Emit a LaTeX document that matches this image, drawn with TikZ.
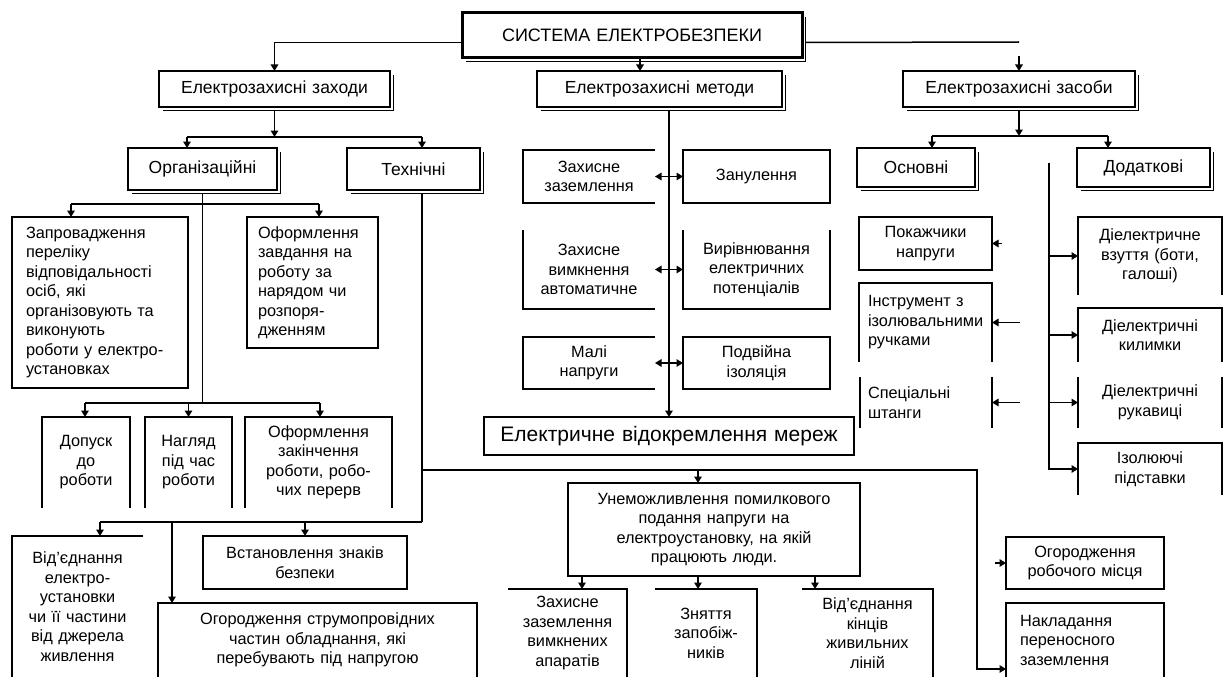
\documentclass[tikz,border=0pt]{standalone}
\usepackage{fontspec}
\setmainfont{Liberation Sans}
\usetikzlibrary{arrows.meta}
\newcommand\fsz{\fontsize{16.3}{19.5}\selectfont}
\newcommand\fszb{\fontsize{17.5}{20}\selectfont}
\newcommand\fszt{\fontsize{18}{21}\selectfont}
\newcommand\fszv{\fontsize{21}{24}\selectfont}
\newcommand\shad[1]{\draw[line width=1pt] ([xshift=3.5pt,yshift=-4pt]#1.north east) |- ([xshift=4pt,yshift=-3.5pt]#1.south west);}
\begin{document}
\begin{tikzpicture}[x=1pt,y=-1pt,line width=1.5pt,
  lbl/.style={inner xsep=5pt,inner ysep=0pt,outer sep=0pt,font=\fsz,align=center,anchor=north west},
  full/.style={lbl,draw},
  head/.style={lbl,draw,font=\fszb},
  arr/.style={-{Triangle[length=6.5pt,width=7.5pt]}}]
\fill[white] (0,0) rectangle (1227,677);
\useasboundingbox (0,0) rectangle (1227,677);

% ---- title and level 2
\node[lbl,draw,line width=3pt,font=\fszt,text width=330pt,minimum height=45pt] (title) at (462,13) {СИСТЕМА ЕЛЕКТРОБЕЗПЕКИ};
\shad{title}
\node[head,text width=221pt,minimum height=36pt] (zah) at (159,71) {Електрозахисні заходи};
\shad{zah}
\node[head,text width=235pt,minimum height=36pt] (met) at (537,71) {Електрозахисні методи};
\shad{met}
\node[head,text width=222pt,minimum height=36pt] (zas) at (903,71) {Електрозахисні засоби};
\shad{zas}

% ---- level 3
\node[head,text width=139pt,minimum height=42pt] (org) at (128,148) {Організаційні};
\shad{org}
\node[head,text width=123pt,minimum height=42pt] (teh) at (347,148) {Технічні};
\shad{teh}
\node[head,text width=108pt,minimum height=39pt] (osn) at (857,148) {Основні};
\shad{osn}
\node[head,text width=123pt,minimum height=39pt] (dod) at (1077,148) {Додаткові};
\shad{dod}

% ---- organisational
\node[full,align=left,inner xsep=14pt,text width=148pt,minimum height=171pt] (zapr) at (12,217)
  {Запровадження\\переліку\\відповідальності\\осіб, які\\організовують та\\виконують\\роботи у електро-\\установках};
\node[full,align=left,inner xsep=11pt,text width=109pt,minimum height=131pt] (ofn) at (247,217)
  {Оформлення\\завдання на\\роботу за\\нарядом чи\\розпоря-\\дженням};
\node[lbl,text width=78pt,minimum height=91pt] (dop) at (42,417) {Допуск\\до\\роботи};
\node[lbl,text width=77pt,minimum height=91pt] (nag) at (145,417) {Нагляд\\під час\\роботи};
\node[lbl,text width=137pt,minimum height=91pt] (ofz) at (245,417) {Оформлення\\закінчення\\роботи, робо-\\чих перерв};
\draw (dop.south west) |- (dop.north east) -- (dop.south east);
\draw (nag.south west) |- (nag.north east) -- (nag.south east);
\draw (ofz.south west) |- (ofz.north east) -- (ofz.south east);

% ---- technical
\node[lbl,text width=121pt,minimum height=141pt] (vid) at (12,536) {Від’єднання\\електро-\\установки\\чи її частини\\від джерела\\живлення};
\draw (vid.south west) |- (vid.north east);
\node[full,text width=194pt,minimum height=53pt] (vst) at (203,536) {Встановлення знаків\\безпеки};
\node[lbl,text width=309pt,minimum height=74pt] (ogs) at (158,603) {Огородження струмопровідних\\частин обладнання, які\\перебувають під напругою};
\draw (ogs.south west) |- (ogs.north east) -- (ogs.south east);
\node[full,text width=282pt,minimum height=93pt] (unem) at (568,483) {Унеможливлення помилкового\\подання напруги на\\електроустановку, на якій\\працюють люди.};
\node[lbl,text width=109pt,minimum height=88pt] (zza) at (508,589) {Захисне\\заземлення\\вимкнених\\апаратів};
\node[lbl,text width=92pt,minimum height=88pt] (zzp) at (655,589) {Зняття\\запобіж-\\ників};
\node[lbl,text width=121pt,minimum height=88pt] (vkl) at (802,589) {Від’єднання\\кінців\\живильних\\ліній};
\draw (zza.north west) -- (zza.north east) -- (zza.south east);
\draw (zzp.north west) -- (zzp.north east) -- (zzp.south east);
\draw (vkl.north west) -- (vkl.north east) -- (vkl.south east);
\node[full,text width=148pt,minimum height=52pt] (orm) at (1006,537) {Огородження\\робочого місця};
\node[lbl,align=left,inner xsep=14pt,text width=130pt,minimum height=74pt] (nak) at (1006,603) {Накладання\\переносного\\заземлення};
\draw (nak.south west) |- (nak.north east) -- (nak.south east);

% ---- methods
\node[lbl,text width=122pt,minimum height=53pt] (zaz) at (523,150) {Захисне\\заземлення};
\node[lbl,text width=122pt,minimum height=79pt] (zvy) at (523,230) {Захисне\\вимкнення\\автоматичне};
\node[lbl,text width=122pt,minimum height=52pt] (mal) at (523,337) {Малі\\напруги};
\draw (zaz.north east) -- (zaz.north west) -- (zaz.south west) -- (zaz.south east);
\draw (zvy.north west) |- (zvy.south east);
\draw (mal.north east) -- (mal.north west) -- (mal.south west) -- (mal.south east);
\node[full,text width=137pt,minimum height=53pt] (zan) at (683,150) {Занулення};
\node[lbl,text width=137pt,minimum height=79pt] (vyr) at (683,230) {Вирівнювання\\електричних\\потенціалів};
\draw (vyr.north west) -- (vyr.south west) -- (vyr.south east) -- (vyr.north east);
\node[full,text width=137pt,minimum height=52pt] (pod) at (683,337) {Подвійна\\ізоляція};
\node[full,font=\fszv,text width=360pt,minimum height=38pt] (vmer) at (484,417) {Електричне відокремлення мереж};

% ---- means
\node[full,text width=123pt,minimum height=53pt] (pok) at (859,217) {Покажчики\\напруги};
\node[lbl,align=left,inner xsep=9pt,text width=115pt,minimum height=79pt] (ins) at (859,283) {Інструмент з\\ізолювальними\\ручками};
\draw (ins.south west) |- (ins.north east) -- (ins.south east);
\node[lbl,align=left,inner xsep=8pt,text width=116pt,minimum height=51pt] (spec) at (860,377) {Спеціальні\\штанги};
\draw (spec.north west) -- (spec.south west) (spec.north east) -- (spec.south east);
\node[lbl,text width=134pt,minimum height=78pt] (dv) at (1078,217) {Діелектричне\\взуття (боти,\\галоші)};
\node[lbl,text width=134pt,minimum height=54pt] (dk) at (1078,308) {Діелектричні\\килимки};
\node[lbl,text width=134pt,minimum height=51pt] (dr) at (1078,377) {Діелектричні\\рукавиці};
\node[lbl,text width=134pt,minimum height=52pt] (izp) at (1078,443) {Ізолюючі\\підставки};
\draw (dv.south west) |- (dv.north east) -- (dv.south east);
\draw (dk.south west) |- (dk.north east) -- (dk.south east);
\draw (dr.north west) -- (dr.south west) (dr.north east) -- (dr.south east);
\draw (izp.south west) |- (izp.north east) -- (izp.south east);

% ---- connectors: top
\draw[arr] ([yshift=-7pt]title.west) -| (zah.north);
\draw[arr] ([xshift=8pt]title.south) -- ([xshift=8pt]title.south |- met.north);
\coordinate (zc) at (1019,42);
\coordinate (zi) at (1019,56);
\draw ([xshift=4pt,yshift=-7pt]title.east) -- (zc);
\draw[arr] (zi) -- (zi |- zas.north);

% zah -> org, teh
\coordinate (h1a) at (187,137);
\coordinate (h1b) at (422,137);
\draw[arr] ([yshift=-3.5pt]zah.south) -- (zah.south |- h1a);
\draw (h1a) -- (h1b);
\draw[arr] (h1a) -- (h1a |- org.north);
\draw[arr] (h1b) -- (h1b |- teh.north);

% zas -> osn, dod
\coordinate (h2a) at (932,136);
\coordinate (h2b) at (1108,136);
\draw[arr] ([yshift=-3.5pt]zas.south) -- (zas.south |- h2a);
\draw (h2a) -- (h2b);
\draw[arr] (h2a) -- (h2a |- osn.north);
\draw[arr] (h2b) -- (h2b |- dod.north);

% organisational
\coordinate (h3a) at (71,204);
\coordinate (h3b) at (319,204);
\coordinate (h4a) at (85,403);
\coordinate (h4b) at (320,403);
\draw ([yshift=-3.5pt]org.south) -- (org.south |- h4a);
\draw (h3a) -- (h3b);
\draw[arr] (h3a) -- (h3a |- zapr.north);
\draw[arr] (h3b) -- (h3b |- ofn.north);
\draw (h4a) -- (h4b);
\draw[arr] (h4a) -- (h4a |- dop.north);
\draw[arr] (nag.north |- h4a) -- (nag.north);
\draw[arr] (h4b) -- (h4b |- ofz.north);

% technical
\coordinate (h5a) at (100,522);
\coordinate (h5b) at (422,522);
\coordinate (h6a) at (422,470);
\coordinate (h6b) at (977,470);
\coordinate (og1) at (172,522);
\coordinate (u1) at (698,470);
\coordinate (nk) at (1006,669);
\draw ([yshift=-3.5pt]h1b |- teh.south) -- (h5b);
\draw (h5a) -- (h5b);
\draw[arr] (h5a) -- (h5a |- vid.north);
\draw[arr] (vst.north |- h5a) -- (vst.north);
\draw[arr] (og1) -- (og1 |- ogs.north);
\draw[arr] (h6a) -- (h6b) -- (h6b |- nk) -- (nk);
\draw[arr] (u1) -- (u1 |- unem.north);
\draw[arr] (unem.south -| 582,0) -- (zza.north -| 582,0);
\draw[arr] (unem.south -| 698,0) -- (zzp.north -| 698,0);
\draw[arr] (unem.south -| 815,0) -- (vkl.north -| 815,0);
\draw[arr] ([xshift=-11pt]orm.west) -- (orm.west);

% methods
\coordinate (mv) at (669,107);
\draw[arr] ([yshift=-3.5pt]mv) -- (mv |- vmer.north);
\draw[arr] (zaz.east -| mv) -- (zaz.east);
\draw[arr] (zan.west -| mv) -- (zan.west);
\draw[arr] (zvy.east -| mv) -- (zvy.east);
\draw[arr] (vyr.west -| mv) -- (vyr.west);
\draw[arr] (mal.east -| mv) -- (mal.east);
\draw[arr] (pod.west -| mv) -- (pod.west);

% means
\coordinate (dv0) at (1049,163);
\draw[arr] (dv0) |- (izp.west);
\draw[arr] (dv.west -| dv0) -- (dv.west);
\draw[arr] (dk.west -| dv0) -- (dk.west);
\draw[arr] (dr.west -| dv0) -- (dr.west);
\draw[arr] ([xshift=10pt]pok.east) -- (pok.east);
\draw[arr] ([xshift=28pt]ins.east) -- (ins.east);
\draw[arr] ([xshift=28pt]spec.east) -- (spec.east);
\end{tikzpicture}
\end{document}
